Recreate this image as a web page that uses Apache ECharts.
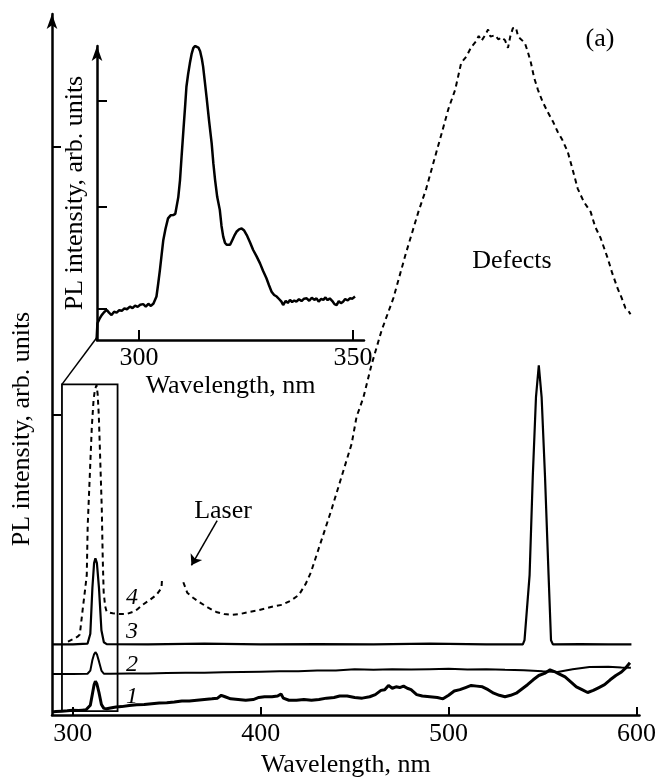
<!DOCTYPE html>
<html>
<head>
<meta charset="utf-8">
<script src="https://cdn.jsdelivr.net/npm/echarts@6/dist/echarts.min.js"></script>
<style>
  body { margin: 0; background: #fff; }
  #chart { width: 659px; height: 783px; }
</style>
</head>
<body>
<div id="chart"></div>
<script>
// tick positions
const mainXTicks = [300, 400, 500, 600];
const mainYTicks = [42.5, 80.4];
const insetXTicks = [300, 350];
const insetYTicks = [10.2, 43.8, 78.6];

// inset: zoomed 290-352 nm region of curve 4
const insetWl = [290.1, 290.3, 290.8, 291.3, 291.9, 292.5, 293.0, 293.6, 294.2, 294.8, 295.4, 296.0, 296.6, 297.2, 297.9, 298.5, 299.1, 299.7, 300.3, 301.0, 301.6, 302.2, 302.8, 303.4, 303.8, 304.1, 304.5, 304.9, 305.3, 305.7, 306.2, 306.8, 307.4, 308.0, 308.5, 308.8, 309.2, 309.6, 310.0, 310.4, 310.8, 311.1, 311.5, 311.9, 312.3, 312.7, 313.1, 313.5, 313.9, 314.3, 314.7, 315.0, 315.4, 315.8, 316.4, 317.0, 317.4, 317.8, 318.3, 318.9, 319.3, 319.7, 320.1, 320.5, 320.9, 321.3, 321.7, 322.0, 322.4, 322.8, 323.4, 324.0, 324.6, 325.2, 326.0, 326.7, 327.5, 328.3, 329.0, 329.8, 330.4, 331.0, 331.6, 332.2, 332.8, 333.3, 333.7, 334.3, 334.8, 335.3, 335.8, 336.3, 336.8, 337.4, 338.0, 338.6, 339.2, 339.8, 340.4, 341.0, 341.5, 342.0, 342.6, 343.1, 343.6, 344.1, 344.6, 345.2, 345.7, 346.2, 346.7, 347.2, 347.7, 348.2, 348.8, 349.3, 349.9, 350.5];
const insetPl = [0, 5.5, 7.0, 8.2, 9.2, 9.9, 9.0, 8.2, 9.3, 9.0, 9.8, 9.6, 10.4, 10.1, 11.0, 10.5, 11.3, 10.9, 11.6, 11.8, 11.0, 11.9, 11.2, 12.0, 12.6, 14.3, 18.5, 23.0, 28.0, 32.9, 36.5, 40.0, 41.0, 41.1, 41.5, 42.0, 47.0, 52.6, 61.0, 69.1, 77.0, 83.3, 87.5, 91.0, 94.0, 96.0, 96.7, 96.8, 96.2, 95.0, 92.5, 89.9, 85.0, 80.0, 72.0, 64.7, 58.0, 52.6, 47.0, 42.8, 37.5, 34.0, 32.0, 31.3, 31.0, 31.3, 32.5, 33.4, 34.6, 35.6, 36.4, 36.7, 36.0, 34.5, 32.0, 29.6, 27.5, 25.2, 22.8, 20.3, 18.0, 15.9, 14.8, 14.3, 13.4, 12.6, 11.5, 12.9, 12.2, 13.2, 12.5, 13.0, 12.6, 13.4, 12.8, 13.6, 13.7, 12.9, 13.9, 13.2, 13.7, 12.6, 13.5, 13.2, 14.0, 13.1, 13.7, 12.8, 11.8, 11.5, 12.8, 12.1, 12.6, 13.5, 13.0, 13.7, 13.6, 14.3];

// curve 1
const c1Wl = [288.9, 291, 294, 297, 300, 303, 305, 307, 307.8, 309.3, 310.4, 311.3, 312.0, 312.8, 313.9, 315.2, 316.5, 318, 320, 323, 326, 330, 334, 338, 342, 346, 350, 354, 358, 362, 366, 370, 374, 377, 379, 381, 384, 388, 392, 396, 399, 402, 406, 409, 410.8, 412, 415, 419, 423, 427, 431, 435, 439, 442, 446, 450, 454, 458, 461, 464, 466, 468, 470, 472, 474, 476, 478, 480, 483, 486, 490, 494, 497, 500, 503, 506, 509, 512, 515, 518, 521, 524, 527, 530, 533, 536, 539, 542, 545, 548, 551, 554, 556, 559, 562, 565, 568, 571, 574, 577, 580, 583, 586, 589, 592, 594, 596.5];
const c1Pl = [0.45, 0.5, 0.55, 0.6, 0.7, 0.65, 0.7, 0.75, 0.8, 1.4, 3.0, 4.3, 4.8, 4.4, 3.2, 1.5, 0.95, 0.9, 1.0, 1.15, 1.2, 1.35, 1.45, 1.5, 1.6, 1.7, 1.75, 1.85, 2.0, 2.0, 2.1, 2.2, 2.3, 2.4, 2.8, 2.6, 2.3, 2.2, 2.1, 2.2, 2.5, 2.6, 2.6, 2.7, 3.0, 2.4, 2.1, 2.1, 2.2, 2.1, 2.2, 2.4, 2.5, 2.7, 2.7, 2.5, 2.4, 2.6, 2.9, 3.5, 3.6, 4.2, 3.8, 4.0, 3.9, 4.1, 3.8, 3.6, 2.9, 2.7, 2.6, 2.5, 2.3, 2.8, 3.4, 3.6, 3.9, 4.2, 4.1, 4.0, 3.6, 3.1, 2.8, 2.6, 2.8, 3.1, 3.7, 4.3, 5.0, 5.6, 5.9, 6.4, 6.2, 5.8, 5.4, 4.7, 4.0, 3.6, 3.2, 3.5, 3.9, 4.3, 5.0, 5.6, 6.1, 6.6, 7.4];

// curve 2
const c2Wl = [288.9, 300, 307.8, 309.3, 310.4, 311.3, 312.0, 312.8, 313.9, 315.2, 316.5, 320, 330, 340, 350, 360, 370, 380, 390, 400, 410, 420, 430, 440, 450, 460, 470, 480, 490, 500, 510, 520, 530, 540, 550, 558, 566, 575, 585, 592, 597];
const c2Pl = [5.8, 5.8, 5.85, 6.3, 7.8, 8.6, 8.9, 8.6, 7.6, 6.3, 5.85, 5.85, 5.9, 5.9, 5.95, 6.0, 6.0, 6.05, 6.1, 6.15, 6.2, 6.2, 6.3, 6.3, 6.5, 6.4, 6.5, 6.45, 6.5, 6.55, 6.45, 6.5, 6.4, 6.35, 6.2, 6.1, 6.5, 6.8, 6.85, 6.75, 6.7];

// curve 3
const c3Wl = [288.9, 300, 307.8, 309.3, 310.4, 311.3, 312.0, 312.8, 313.9, 315.2, 316.5, 318, 340, 370, 400, 430, 460, 490, 520, 539.5, 540.4, 543.1, 544.8, 546.5, 548.0, 549.5, 551.3, 553.2, 554.5, 555.5, 570, 585, 597.3];
const c3Pl = [10.0, 10.0, 10.1, 11.5, 18.0, 21.5, 22.2, 21.5, 18.0, 12.0, 10.3, 10.05, 10.0, 10.1, 10.0, 10.05, 10.0, 10.1, 10.0, 10.0, 10.6, 19.8, 33.8, 45.0, 49.5, 45.0, 33.8, 19.8, 10.6, 10.0, 10.05, 10.0, 10.0];

// curve 4 (dashed), laser region cut out
const c4Wl = [297.4, 298.4, 300.5, 302.5, 303.7, 305.3, 306.4, 307.4, 307.9, 309.0, 310.1, 311.0, 311.7, 312.6, 313.2, 313.8, 314.3, 315.4, 315.9, 316.4, 317.2, 318.0, 321.2, 325, 328.6, 331.8, 334.5, 337.1, 341, 344.5, 347.2, 347.5, 352, 358.8, 360.9, 364, 367.3, 372, 376.3, 380.5, 384.8, 389, 393.8, 398, 402.8, 407, 411.3, 416, 420.3, 424, 426.7, 430.9, 434.5, 437.8, 443.1, 448.4, 451.0, 454.7, 459.0, 464.3, 470.6, 477.0, 483.9, 488.1, 492.9, 496.5, 499.8, 503.5, 506.7, 509.5, 512.0, 514.5, 516.0, 517.5, 519.4, 521.0, 522.3, 524.7, 526.5, 528.2, 530.0, 531.6, 532.8, 534.2, 535.8, 537.0, 537.9, 540.6, 542.2, 543.8, 545.5, 547.5, 550.0, 552.8, 555.5, 558.1, 560.5, 563.4, 566.0, 568.7, 572.0, 575.6, 578.0, 580.9, 583.0, 584.6, 587.0, 589.9, 592.0, 594.1, 595.5, 596.8];
const c4Pl = [10.4, 10.5, 10.8, 11.1, 11.4, 15.1, 17.5, 19.8, 26.8, 33.8, 40.8, 44.5, 46.0, 46.7, 45.4, 42.5, 38.4, 29.2, 22.2, 17.4, 15.4, 14.6, 14.4, 14.3, 14.3, 14.6, 15.0, 15.6, 16.3, 17.0, 18.0, 19.5, null, 18.8, 17.3, 16.6, 16.0, 15.2, 14.6, 14.3, 14.2, 14.3, 14.6, 14.8, 15.1, 15.4, 15.6, 16.2, 17.0, 18.6, 20.2, 23.6, 26.5, 29.2, 33.8, 38.4, 42.2, 45.0, 49.6, 54.4, 59.0, 65.1, 71.2, 74.5, 79.1, 82.5, 85.7, 88.5, 92.3, 93.2, 94.5, 95.3, 96.1, 95.4, 96.2, 97.0, 96.0, 96.2, 95.6, 95.9, 95.5, 94.4, 96.0, 97.2, 97.3, 96.0, 95.9, 95.1, 93.8, 92.3, 90.2, 88.5, 86.8, 85.3, 84.0, 82.5, 81.4, 79.7, 77.2, 74.5, 72.6, 71.2, 69.1, 67.5, 65.9, 64.7, 62.6, 60.4, 59.1, 57.6, 57.3, 56.7];

const zip = (xs, ys) => xs.map((x, i) => [x, ys[i]]);

const chart = echarts.init(document.getElementById('chart'));
const font = 'Liberation Serif, Times New Roman, serif';

const axisBase = {
  type: 'value',
  splitLine: { show: false },
  axisLine: { lineStyle: { color: '#000', width: 2.5 } },
  nameTextStyle: { fontFamily: font, fontSize: 26, color: '#000' }
};

const line = (data, width, extra) => Object.assign({
  type: 'line',
  data: data,
  showSymbol: false,
  symbol: 'none',
  silent: true,
  connectNulls: false,
  lineStyle: { color: '#000', width: width }
}, extra || {});

const option = {
  animation: false,
  backgroundColor: '#fff',
  grid: [
    { left: 52, top: 14, width: 590, height: 707 },
    { left: 97, top: 46, width: 267, height: 294 }
  ],
  xAxis: [
    Object.assign({}, axisBase, {
      gridIndex: 0, min: 288.9, max: 601.6,
      name: 'Wavelength, nm', nameLocation: 'middle', nameGap: 33,
      axisTick: { inside: true, length: 8, customValues: mainXTicks, lineStyle: { color: '#000', width: 2 } },
      axisLabel: { customValues: mainXTicks, margin: 6, fontFamily: font, fontSize: 26, color: '#000' }
    }),
    Object.assign({}, axisBase, {
      gridIndex: 1, min: 290.2, max: 352.6,
      name: 'Wavelength, nm', nameLocation: 'middle', nameGap: 33,
      axisTick: { inside: true, length: 10, customValues: insetXTicks, lineStyle: { color: '#000', width: 2 } },
      axisLabel: { customValues: insetXTicks, margin: 5, fontFamily: font, fontSize: 26, color: '#000' }
    })
  ],
  yAxis: [
    Object.assign({}, axisBase, {
      gridIndex: 0, min: 0, max: 99.2,
      axisLine: { symbol: ['none', 'arrow'], symbolSize: [8, 15], lineStyle: { color: '#000', width: 2.5 } },
      axisTick: { inside: true, length: 9, customValues: mainYTicks, lineStyle: { color: '#000', width: 2 } },
      axisLabel: { show: false }
    }),
    Object.assign({}, axisBase, {
      gridIndex: 1, min: 0, max: 96.7,
      name: 'PL intensity, arb. units', nameLocation: 'middle', nameGap: 9,
      axisLine: { symbol: ['none', 'arrow'], symbolSize: [8, 15], lineStyle: { color: '#000', width: 2.5 } },
      axisTick: { inside: true, length: 10, customValues: insetYTicks, lineStyle: { color: '#000', width: 2 } },
      axisLabel: { show: false }
    })
  ],
  series: [
    line(zip(c1Wl, c1Pl), 3),
    line(zip(c2Wl, c2Pl), 2),
    line(zip(c3Wl, c3Pl), 2.2, {
      markArea: {
        silent: true,
        itemStyle: { color: 'rgba(0,0,0,0)', borderColor: '#000', borderWidth: 1.8 },
        data: [[{ xAxis: 294.2, yAxis: 0.56 }, { xAxis: 323.8, yAxis: 46.8 }]]
      }
    }),
    line(zip(c4Wl, c4Pl), 2, {
      lineStyle: { color: '#000', width: 2, type: [5, 4] },
      markLine: {
        silent: true,
        symbol: ['none', 'none'],
        label: { show: false },
        lineStyle: { color: '#000', width: 1.5, type: 'solid' },
        data: [
          [{ coord: [294.2, 46.8] }, { coord: [312.7, 53.4] }],
          [{ coord: [376.8, 27.5], symbol: 'none' }, { coord: [363.1, 21.2], symbol: 'arrow', symbolSize: 10 }]
        ]
      }
    }),
    line(zip(insetWl, insetPl), 2.5, { xAxisIndex: 1, yAxisIndex: 1 })
  ],
  graphic: [
    { type: 'text', x: 22, y: 429, rotation: Math.PI / 2,
      style: { text: 'PL intensity, arb. units', font: '26px ' + font, fill: '#000', align: 'center', verticalAlign: 'middle' } },
    { type: 'text', x: 600, y: 39, style: { text: '(a)', font: '26px ' + font, fill: '#000', align: 'center', verticalAlign: 'middle' } },
    { type: 'text', x: 512, y: 261, style: { text: 'Defects', font: '26px ' + font, fill: '#000', align: 'center', verticalAlign: 'middle' } },
    { type: 'text', x: 223, y: 511, style: { text: 'Laser', font: '26px ' + font, fill: '#000', align: 'center', verticalAlign: 'middle' } },
    { type: 'text', x: 132, y: 598, style: { text: '4', font: 'italic 24px ' + font, fill: '#000', align: 'center', verticalAlign: 'middle' } },
    { type: 'text', x: 132, y: 632, style: { text: '3', font: 'italic 24px ' + font, fill: '#000', align: 'center', verticalAlign: 'middle' } },
    { type: 'text', x: 132, y: 665, style: { text: '2', font: 'italic 24px ' + font, fill: '#000', align: 'center', verticalAlign: 'middle' } },
    { type: 'text', x: 132, y: 697, style: { text: '1', font: 'italic 24px ' + font, fill: '#000', align: 'center', verticalAlign: 'middle' } }
  ]
};

chart.setOption(option);
</script>
</body>
</html>
